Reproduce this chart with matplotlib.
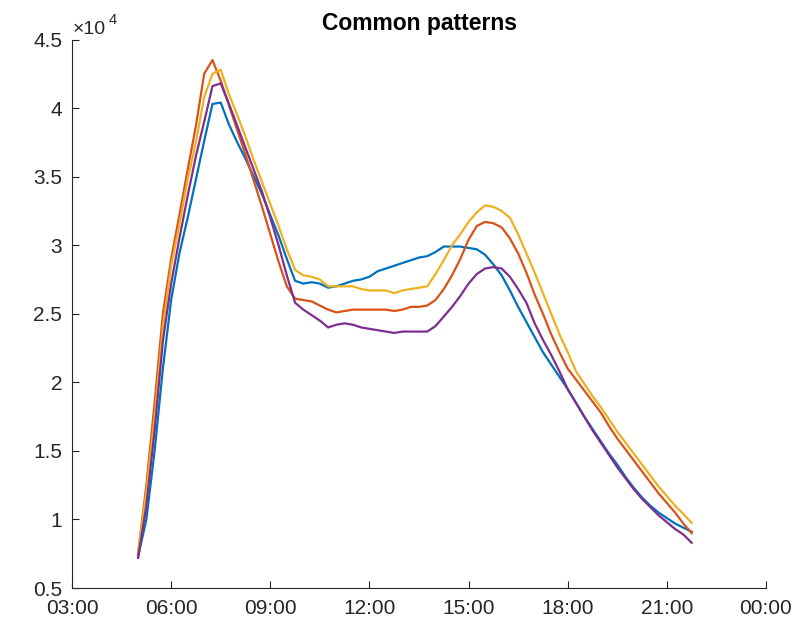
import numpy as np
import matplotlib
matplotlib.use('Agg')
import matplotlib.pyplot as plt
from matplotlib.ticker import FuncFormatter, MultipleLocator

plt.rcParams['font.family'] = ['Liberation Sans', 'DejaVu Sans']

# quarter-hour samples, 05:00 .. 21:45
hours = np.arange(5, 22, 0.25)

# values in units of 1e4
pattern1 = [0.73, 1.00, 1.50, 2.10, 2.60, 2.94, 3.20, 3.48, 3.76, 4.03, 4.04, 3.88,
            3.75, 3.63, 3.50, 3.37, 3.22, 3.07, 2.90, 2.74, 2.72, 2.73, 2.72, 2.69,
            2.70, 2.72, 2.74, 2.75, 2.77, 2.81, 2.83, 2.85, 2.87, 2.89, 2.91, 2.92,
            2.95, 2.99, 2.99, 2.99, 2.98, 2.97, 2.93, 2.86, 2.78, 2.67, 2.55, 2.44,
            2.33, 2.22, 2.13, 2.04, 1.95, 1.85, 1.75, 1.66, 1.57, 1.48, 1.40, 1.31,
            1.23, 1.16, 1.10, 1.05, 1.01, 0.97, 0.94, 0.91]
pattern2 = [0.75, 1.25, 1.85, 2.50, 2.90, 3.22, 3.55, 3.87, 4.25, 4.35, 4.20, 4.02,
            3.84, 3.66, 3.47, 3.28, 3.08, 2.88, 2.70, 2.61, 2.60, 2.59, 2.56, 2.53,
            2.51, 2.52, 2.53, 2.53, 2.53, 2.53, 2.53, 2.52, 2.53, 2.55, 2.55, 2.56,
            2.60, 2.68, 2.78, 2.90, 3.04, 3.14, 3.17, 3.16, 3.13, 3.05, 2.94, 2.80,
            2.64, 2.50, 2.35, 2.22, 2.10, 2.02, 1.94, 1.86, 1.78, 1.68, 1.59, 1.51,
            1.43, 1.35, 1.27, 1.19, 1.12, 1.05, 0.97, 0.90]
pattern3 = [0.76, 1.20, 1.75, 2.40, 2.85, 3.15, 3.48, 3.75, 4.08, 4.25, 4.28, 4.10,
            3.95, 3.79, 3.62, 3.46, 3.30, 3.14, 2.97, 2.82, 2.78, 2.77, 2.75, 2.70,
            2.70, 2.70, 2.70, 2.68, 2.67, 2.67, 2.67, 2.65, 2.67, 2.68, 2.69, 2.70,
            2.79, 2.89, 3.00, 3.08, 3.17, 3.24, 3.29, 3.28, 3.25, 3.20, 3.08, 2.94,
            2.80, 2.65, 2.50, 2.35, 2.22, 2.08, 1.99, 1.90, 1.82, 1.73, 1.64, 1.56,
            1.48, 1.40, 1.32, 1.24, 1.17, 1.10, 1.04, 0.975]
pattern4 = [0.72, 1.10, 1.65, 2.30, 2.72, 3.05, 3.36, 3.65, 3.90, 4.16, 4.18, 4.03,
            3.87, 3.71, 3.55, 3.39, 3.20, 3.00, 2.78, 2.58, 2.53, 2.49, 2.45, 2.40,
            2.42, 2.43, 2.42, 2.40, 2.39, 2.38, 2.37, 2.36, 2.37, 2.37, 2.37, 2.37,
            2.41, 2.48, 2.55, 2.63, 2.72, 2.79, 2.83, 2.84, 2.83, 2.77, 2.68, 2.58,
            2.43, 2.31, 2.20, 2.08, 1.95, 1.85, 1.75, 1.65, 1.56, 1.47, 1.38, 1.30,
            1.22, 1.15, 1.09, 1.03, 0.98, 0.93, 0.89, 0.83]

scale = 1e4
colors = ['#0072BD', '#D95319', '#EDB120', '#7E2F8E']
axis_col = '#262626'

fig = plt.figure(figsize=(8.06, 6.28), dpi=100)
ax = fig.add_axes([72/806, 1 - 588/628, (766 - 72)/806, (588 - 39.5)/628])

for vals, c in zip([pattern1, pattern2, pattern3, pattern4], colors):
    ax.plot(hours, np.array(vals) * scale, color=c, lw=1.6)

ax.set_xlim(3, 24)
ax.set_ylim(0.5 * scale, 4.5 * scale)
ax.xaxis.set_major_locator(MultipleLocator(3))
ax.yaxis.set_major_locator(MultipleLocator(0.5 * scale))
ax.xaxis.set_major_formatter(FuncFormatter(lambda h, p: f'{int(round(h)) % 24:02d}:00'))
ax.yaxis.set_major_formatter(FuncFormatter(lambda v, p: f'{v / scale:g}'))

for s in ['top', 'right']:
    ax.spines[s].set_visible(False)
for s in ['left', 'bottom']:
    ax.spines[s].set_color(axis_col)
    ax.spines[s].set_linewidth(0.8)
ax.tick_params(direction='in', length=5, width=0.8, color=axis_col,
               labelcolor=axis_col, labelsize=15)
ax.tick_params(axis='x', pad=8)
ax.tick_params(axis='y', pad=7)

ax.set_title('Common patterns', fontsize=16.5, fontweight='bold', pad=7)

# exponent label above the y axis
fig.text(73/806, 1 - 33.5/628, '\u00d710', fontsize=14, color=axis_col, va='baseline')
fig.text(109/806, 1 - 24/628, '4', fontsize=10.5, color=axis_col, va='baseline')

fig.savefig('out.png', dpi=100)
